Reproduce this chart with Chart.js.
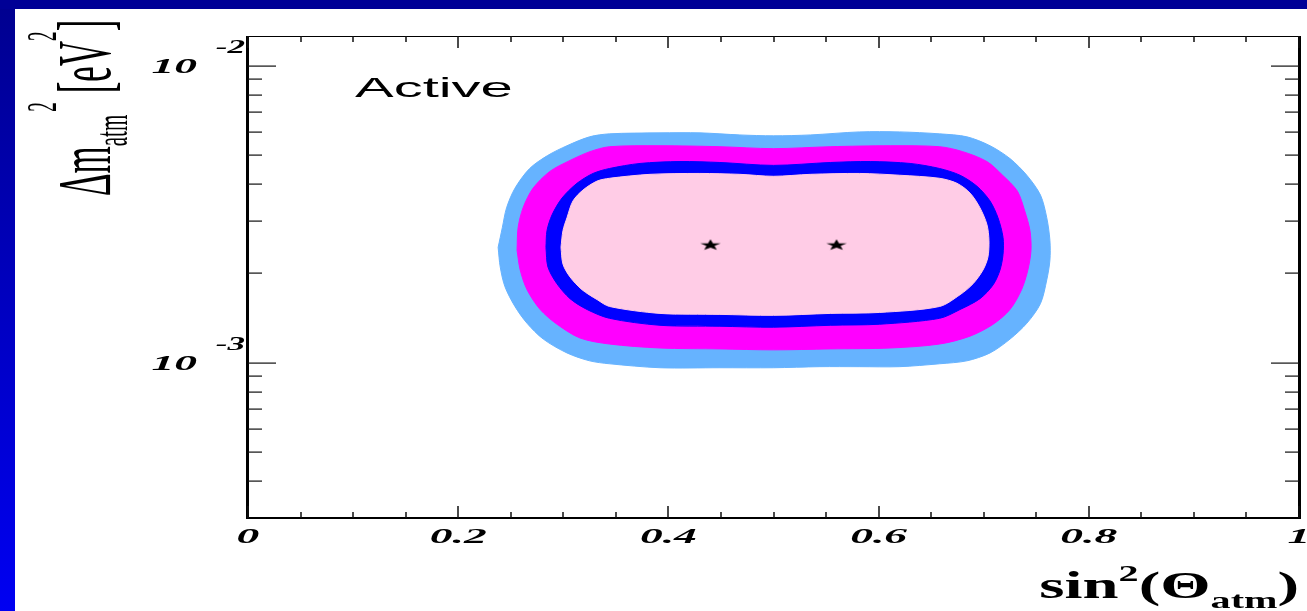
<!DOCTYPE html>
<html>
<head>
<meta charset="utf-8">
<script src="https://cdn.jsdelivr.net/npm/chart.js@4.4.1/dist/chart.umd.min.js"></script>
<style>
  html, body { margin: 0; padding: 0; background: #fff; overflow: hidden; }
  canvas { display: block; }
</style>
</head>
<body>
<canvas id="c" width="1307" height="611"></canvas>
<script>
// Allowed regions in the (sin^2 theta_atm, Δm^2_atm) plane, each as a closed boundary.
// Outermost light-blue region
const lightBlueX = [0.238,0.242,0.246,0.254,0.268,0.285,0.3035,0.325,0.344,0.392,0.430,0.468,0.500,0.535,0.582,0.620,0.658,0.684,0.706,0.725,0.741,0.754,0.760,0.763,0.763,0.760,0.754,0.741,0.725,0.706,0.684,0.658,0.620,0.582,0.544,0.500,0.449,0.392,0.344,0.325,0.3035,0.281,0.2655,0.254,0.2445,0.240];
const lightBlueY = [2.447e-3,2.852e-3,3.323e-3,3.87e-3,4.51e-3,4.985e-3,5.38e-3,5.766e-3,5.90e-3,5.945e-3,5.945e-3,5.85e-3,5.81e-3,5.85e-3,5.99e-3,5.99e-3,5.90e-3,5.766e-3,5.38e-3,4.87e-3,4.28e-3,3.67e-3,3.078e-3,2.582e-3,2.215e-3,1.901e-3,1.582e-3,1.358e-3,1.201e-3,1.079e-3,1.015e-3,9.92e-4,9.70e-4,9.70e-4,9.70e-4,9.62e-4,9.62e-4,9.62e-4,9.92e-4,1.015e-3,1.079e-3,1.201e-3,1.358e-3,1.547e-3,1.803e-3,2.100e-3];
// Magenta region
const magentaX = [0.256,0.257,0.2617,0.2712,0.2873,0.3064,0.3254,0.344,0.392,0.449,0.500,0.554,0.611,0.658,0.680,0.703,0.718,0.732,0.739,0.744,0.745,0.742,0.736,0.725,0.709,0.687,0.658,0.611,0.554,0.500,0.449,0.392,0.344,0.316,0.294,0.278,0.2655,0.259];
const magentaY = [2.391e-3,2.852e-3,3.323e-3,3.87e-3,4.41e-3,4.80e-3,5.14e-3,5.34e-3,5.38e-3,5.34e-3,5.26e-3,5.34e-3,5.38e-3,5.34e-3,5.14e-3,4.76e-3,4.28e-3,3.785e-3,3.248e-3,2.788e-3,2.391e-3,2.052e-3,1.762e-3,1.511e-3,1.348e-3,1.229e-3,1.156e-3,1.121e-3,1.113e-3,1.105e-3,1.113e-3,1.121e-3,1.156e-3,1.211e-3,1.348e-3,1.511e-3,1.762e-3,2.052e-3];
// Blue region
const blueX = [0.2835,0.2845,0.2893,0.2988,0.313,0.3283,0.344,0.373,0.411,0.449,0.500,0.554,0.592,0.630,0.658,0.6775,0.6936,0.706,0.7136,0.7184,0.7184,0.7155,0.709,0.6965,0.6775,0.658,0.601,0.554,0.500,0.449,0.392,0.344,0.3226,0.3064,0.294,0.2854];
const blueY = [2.447e-3,2.788e-3,3.149e-3,3.587e-3,4.02e-3,4.34e-3,4.51e-3,4.69e-3,4.76e-3,4.725e-3,4.62e-3,4.725e-3,4.76e-3,4.69e-3,4.51e-3,4.28e-3,3.93e-3,3.506e-3,3.078e-3,2.642e-3,2.319e-3,2.052e-3,1.830e-3,1.644e-3,1.511e-3,1.411e-3,1.348e-3,1.337e-3,1.317e-3,1.327e-3,1.337e-3,1.411e-3,1.511e-3,1.644e-3,1.844e-3,2.100e-3];
// Innermost pink region
const pinkX = [0.2978,0.2997,0.3035,0.3092,0.3187,0.3321,0.344,0.3825,0.430,0.468,0.500,0.535,0.582,0.620,0.658,0.6746,0.687,0.6965,0.7031,0.705,0.704,0.6993,0.6898,0.6775,0.658,0.601,0.554,0.500,0.449,0.392,0.344,0.3321,0.3178,0.3064,0.2997];
const pinkY = [2.447e-3,2.788e-3,3.078e-3,3.506e-3,3.815e-3,4.09e-3,4.18e-3,4.31e-3,4.34e-3,4.31e-3,4.245e-3,4.31e-3,4.34e-3,4.28e-3,4.18e-3,4.02e-3,3.727e-3,3.323e-3,2.918e-3,2.582e-3,2.267e-3,2.052e-3,1.844e-3,1.695e-3,1.547e-3,1.477e-3,1.466e-3,1.444e-3,1.455e-3,1.466e-3,1.547e-3,1.632e-3,1.762e-3,1.945e-3,2.148e-3];

// Best-fit points (two octant-degenerate minima)
const bestFitX = [0.44, 0.56];
const bestFitY = [2.5e-3, 2.5e-3];

// Axis ranges and labelled ticks
const xRange = [0, 1];
const yRange = [3.16e-4, 1.26e-2];
const xTickValues = [0, 0.2, 0.4, 0.6, 0.8, 1];
const xTickLabels = ['0', '0.2', '0.4', '0.6', '0.8', '1'];
const yDecadeValues = [1e-2, 1e-3];
const yDecadeExponents = ['-2', '-3'];

const panelLabel = 'Active';

// Lettering is drawn wide, as on a horizontally stretched pad.
const SX = 2.07;

function closedLoop(xs, ys) {
  const pts = xs.map((x, i) => ({ x: x, y: ys[i] }));
  pts.push({ x: xs[0], y: ys[0] });
  return pts;
}

function region(xs, ys, color, order) {
  return {
    data: closedLoop(xs, ys),
    showLine: true,
    fill: 'shape',
    backgroundColor: color,
    borderColor: color,
    borderWidth: 1,
    pointRadius: 0,
    tension: 0.3,
    order: order
  };
}

function starMarker() {
  const c = document.createElement('canvas');
  c.width = 22; c.height = 12;
  const g = c.getContext('2d');
  g.translate(11, 6.6);
  g.scale(1.85, 1);
  g.beginPath();
  for (let i = 0; i < 10; i++) {
    const r = (i % 2) ? 2.3 : 5.8;
    const a = -Math.PI / 2 + i * Math.PI / 5;
    g.lineTo(r * Math.cos(a), r * Math.sin(a));
  }
  g.closePath();
  g.fillStyle = '#000';
  g.fill();
  return c;
}

function wideText(ctx, str, x, y, font, sx, align) {
  ctx.save();
  ctx.font = font;
  const w = ctx.measureText(str).width * sx;
  let x0 = x;
  if (align === 'center') x0 = x - w / 2;
  else if (align === 'right') x0 = x - w;
  ctx.translate(x0, y);
  ctx.scale(sx, 1);
  ctx.textAlign = 'left';
  ctx.textBaseline = 'alphabetic';
  ctx.fillText(str, 0, 0);
  ctx.restore();
  return w;
}

// runs: [{t, s (size factor), dy (em shift, + is down)}]
function runsWidth(ctx, runs, size, weight, family) {
  let w = 0;
  for (const r of runs) {
    ctx.font = `${weight} ${size * r.s}px ${family}`;
    w += ctx.measureText(r.t).width;
  }
  return w;
}

function drawRuns(ctx, runs, size, weight, family) {
  let x = 0;
  for (const r of runs) {
    ctx.font = `${weight} ${size * r.s}px ${family}`;
    ctx.fillText(r.t, x, (r.dy || 0) * size);
    x += ctx.measureText(r.t).width;
  }
}

const padPlugin = {
  id: 'pad',
  beforeDraw(chart) {
    const ctx = chart.ctx;
    const W = chart.width, H = chart.height;
    ctx.save();
    ctx.fillStyle = '#ffffff';
    ctx.fillRect(0, 0, W, H);
    const grad = ctx.createLinearGradient(0, 0, 0, H);
    grad.addColorStop(0, '#00008f');
    grad.addColorStop(1, '#0000f2');
    ctx.fillStyle = grad;
    ctx.fillRect(0, 0, 15, H);
    ctx.fillStyle = '#000096';
    ctx.fillRect(0, 0, W, 9);
    ctx.restore();
  },
  afterDatasetsDraw(chart) {
    const ctx = chart.ctx;
    const ca = chart.chartArea;
    const xs = chart.scales.x, ys = chart.scales.y;
    ctx.save();
    ctx.fillStyle = '#000';

    // frame
    ctx.fillRect(ca.left - 2, ca.top, 3, ca.bottom - ca.top + 1);
    ctx.fillRect(ca.left - 2, ca.bottom - 1, ca.right - ca.left + 3, 2);
    ctx.fillRect(ca.left, ca.top, ca.right - ca.left, 1);
    ctx.fillRect(ca.right - 1, ca.top, 3, ca.bottom - ca.top + 1);

    // x ticks, every 0.05, longer on the labelled ones
    ctx.fillStyle = '#111';
    for (let i = 0; i <= 20; i++) {
      const v = i * 0.05;
      const px = Math.round(xs.getPixelForValue(v));
      const major = (i % 4 === 0);
      const len = major ? 12 : 6;
      ctx.fillRect(px - 0.75, ca.bottom - len, 1.5, len);
      ctx.fillRect(px - 0.75, ca.top, 1.5, len);
    }

    // y ticks on the log axis
    for (let e = -4; e <= -2; e++) {
      const d = Math.pow(10, e);
      for (let k = 1; k <= 9; k++) {
        const v = k * d;
        if (v < yRange[0] || v > yRange[1]) continue;
        const py = Math.round(ys.getPixelForValue(v));
        const len = (k === 1) ? 28 : 14;
        ctx.fillRect(ca.left, py - 0.5, len, 1.2);
        ctx.fillRect(ca.right - len, py - 0.5, len, 1.2);
      }
    }

    // x tick labels
    ctx.fillStyle = '#000';
    const tickFont = "bold italic 22px 'Liberation Serif'";
    xTickValues.forEach((v, i) => {
      const px = xs.getPixelForValue(v);
      wideText(ctx, xTickLabels[i], px, ca.bottom + 25, tickFont, SX, 'center');
    });

    // y tick labels: 10 with a raised exponent
    yDecadeValues.forEach((v, i) => {
      const py = ys.getPixelForValue(v);
      wideText(ctx, '10', 197, py + 7.5, tickFont, SX, 'right');
      wideText(ctx, yDecadeExponents[i], 245, py - 12.5, "bold italic 19px 'Liberation Serif'", 1.85, 'right');
    });

    // panel label
    wideText(ctx, panelLabel, 355, 97, "28px 'Liberation Sans'", SX, 'left');

    // x axis title: sin^2(Θ_atm)
    const xTitle = [
      { t: 'sin', s: 1 },
      { t: '2', s: 0.62, dy: -0.45 },
      { t: '(', s: 1 },
      { t: 'Θ', s: 1 },
      { t: 'atm', s: 0.62, dy: 0.26 },
      { t: ')', s: 1 }
    ];
    const xtSize = 37, xtSX = 1.75;
    const xtW = runsWidth(ctx, xTitle, xtSize, 'bold', "'Liberation Serif'") * xtSX;
    ctx.save();
    ctx.translate(1299 - xtW, 598);
    ctx.scale(xtSX, 1);
    ctx.textBaseline = 'alphabetic';
    drawRuns(ctx, xTitle, xtSize, 'bold', "'Liberation Serif'");
    ctx.restore();

    // y axis title: Δm_atm^2 [eV^2], reading upward
    const yTitle = [
      { t: 'Δm', s: 1 },
      { t: 'atm', s: 0.6, dy: 0.22 },
      { t: ' ', s: 0.35 },
      { t: '2', s: 0.55, dy: -0.7 },
      { t: ' [eV', s: 1 },
      { t: '2', s: 0.55, dy: -0.7 },
      { t: ']', s: 1 }
    ];
    ctx.save();
    ctx.translate(110, 196);
    ctx.rotate(-Math.PI / 2);
    ctx.scale(1, 2.2);
    ctx.textBaseline = 'alphabetic';
    drawRuns(ctx, yTitle, 35, 'normal', "'Liberation Serif'");
    ctx.restore();

    ctx.restore();
  }
};

new Chart(document.getElementById('c'), {
  type: 'scatter',
  data: {
    datasets: [
      {
        data: bestFitX.map((x, i) => ({ x: x, y: bestFitY[i] })),
        pointStyle: starMarker(),
        pointRadius: 6,
        showLine: false,
        order: 0
      },
      region(pinkX, pinkY, '#ffcce6', 1),
      region(blueX, blueY, '#0000ff', 2),
      region(magentaX, magentaY, '#ff00ff', 3),
      region(lightBlueX, lightBlueY, '#66b3ff', 4)
    ]
  },
  options: {
    responsive: false,
    animation: false,
    devicePixelRatio: 1,
    layout: { padding: { left: 248, top: 36, right: 8, bottom: 93 } },
    scales: {
      x: { type: 'linear', min: xRange[0], max: xRange[1], display: false },
      y: { type: 'logarithmic', min: yRange[0], max: yRange[1], display: false }
    },
    plugins: { legend: { display: false }, tooltip: { enabled: false } }
  },
  plugins: [padPlugin]
});
</script>
</body>
</html>
